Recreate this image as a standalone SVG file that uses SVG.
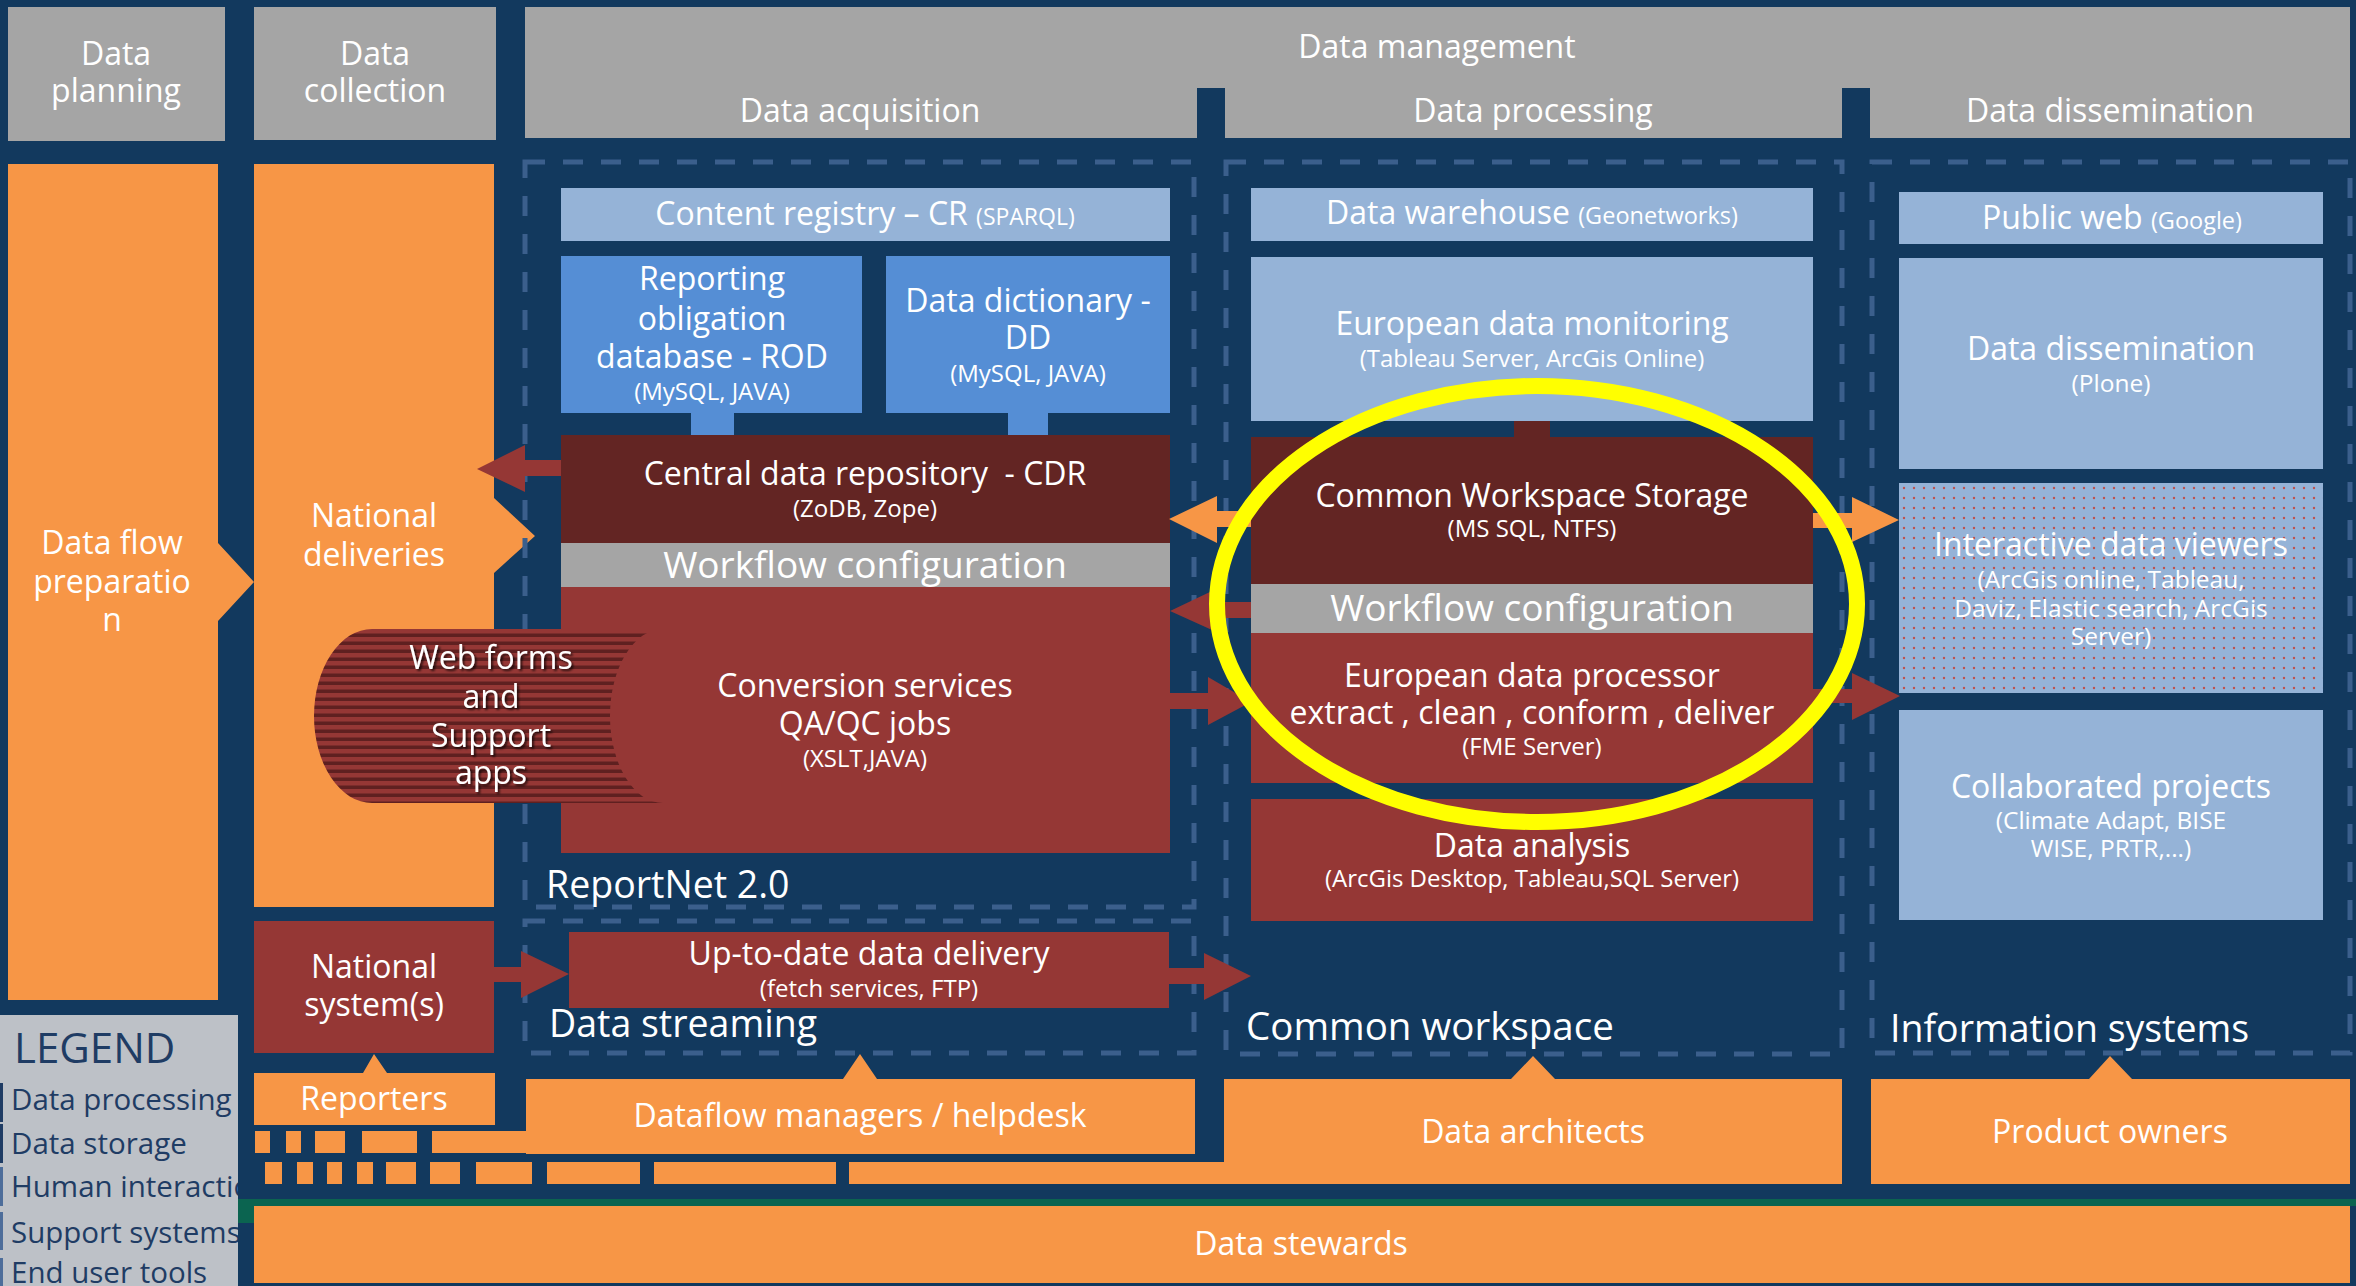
<svg xmlns="http://www.w3.org/2000/svg" width="2356" height="1286" viewBox="0 0 2356 1286">
<style>
.t{font-family:"Open Sans","Liberation Sans",sans-serif;fill:#ffffff;text-anchor:middle}
.l{text-anchor:start}
.f31{font-size:32px}
.f30{font-size:32px}
.f35{font-size:37.5px}
.sub{font-size:24px}
.hd{fill:#a5a5a5}
.or{fill:#f79646}
.lb{fill:#95b3d7}
.mb{fill:#558ed5}
.dr{fill:#632523}
.rd{fill:#953735}
.dash{fill:none;stroke:#3b5f8c;stroke-width:5;stroke-dasharray:20 18}
.lg{font-family:"Open Sans","Liberation Sans",sans-serif;fill:#1f3c64;font-size:29.5px}
.lgt{font-family:"Open Sans","Liberation Sans",sans-serif;fill:#1f3c64;font-size:42px}
</style>
<defs>
<pattern id="stripes" patternUnits="userSpaceOnUse" x="0" y="629" width="10" height="8">
<rect width="10" height="8" fill="#953735"/>
<rect y="4.5" width="10" height="3.5" fill="#5f2020"/>
</pattern>
<pattern id="dots" patternUnits="userSpaceOnUse" x="1899" y="483" width="10" height="10">
<rect width="10" height="10" fill="#95b3d7"/>
<circle cx="5" cy="5" r="1.2" fill="#c0504d"/>
</pattern>
<filter id="shadow" x="-10%" y="-10%" width="130%" height="130%">
<feDropShadow dx="2" dy="2" stdDeviation="1" flood-color="#000000" flood-opacity="0.7"/>
</filter>
<clipPath id="legclip"><rect x="0" y="1015" width="238" height="271"/></clipPath>
</defs>
<rect width="2356" height="1286" fill="#12395e"/>

<g id="headers">
<rect class="hd" x="8" y="7" width="217" height="134"/>
<text class="t f31" x="116" y="65">Data</text>
<text class="t f31" x="116" y="102">planning</text>
<rect class="hd" x="254" y="7" width="242" height="133"/>
<text class="t f31" x="375" y="65">Data</text>
<text class="t f31" x="375" y="102">collection</text>
<rect class="hd" x="525" y="7" width="1825" height="131"/>
<rect x="1197" y="88" width="28" height="50" fill="#12395e"/>
<rect x="1842" y="88" width="28" height="50" fill="#12395e"/>
<text class="t f31" x="1437" y="58">Data management</text>
<text class="t f31" x="860" y="122">Data acquisition</text>
<text class="t f31" x="1533" y="122">Data processing</text>
<text class="t f31" x="2110" y="122">Data dissemination</text>
</g>

<g id="dataflow-preparation">
<path class="or" d="M8,164 H218 V543 L254,582 L218,621 V1000 H8 Z"/>
<text class="t f31" x="112" y="554">Data flow</text>
<text class="t f31" x="112" y="593">preparatio</text>
<text class="t f31" x="112" y="631">n</text>
</g>

<g id="national-deliveries">
<path class="or" d="M254,164 H494 V498 L535,536 L494,573 V907 H254 Z"/>
<text class="t f31" x="374" y="527">National</text>
<text class="t f31" x="374" y="566">deliveries</text>
</g>

<g id="regions">
<rect class="dash" x="525" y="162" width="669" height="745"/>
<rect class="dash" x="525" y="921" width="669" height="132"/>
<rect class="dash" x="1226" y="162" width="616" height="892"/>
<rect class="dash" x="1872" y="162" width="478" height="891"/>
<text class="t l f35" x="546" y="898">ReportNet 2.0</text>
<text class="t l f35" x="549" y="1037">Data streaming</text>
<text class="t l" font-size="38.5" x="1246" y="1040">Common workspace</text>
<text class="t l f35" x="1890" y="1042">Information systems</text>
</g>

<g id="content-registry">
<rect class="lb" x="561" y="188" width="609" height="53"/>
<text class="t f30" x="865" y="225">Content registry – CR <tspan font-size="23">(SPARQL)</tspan></text>
</g>
<g id="rod">
<rect class="mb" x="561" y="256" width="301" height="157"/>
<text class="t f30" x="712" y="290">Reporting</text>
<text class="t f30" x="712" y="330">obligation</text>
<text class="t f30" x="712" y="368">database - ROD</text>
<text class="t sub" x="712" y="400">(MySQL, JAVA)</text>
</g>
<g id="dd">
<rect class="mb" x="886" y="256" width="284" height="157"/>
<text class="t f30" x="1028" y="312">Data dictionary -</text>
<text class="t f30" x="1028" y="349">DD</text>
<text class="t sub" x="1028" y="382">(MySQL, JAVA)</text>
</g>
<g id="cdr">
<rect class="dr" x="561" y="435" width="609" height="108"/>
<text class="t f30" x="865" y="485" xml:space="preserve">Central data repository  - CDR</text>
<text class="t sub" x="865" y="517">(ZoDB, Zope)</text>
</g>
<g id="workflow-reportnet">
<rect class="hd" x="561" y="543" width="609" height="44"/>
<text class="t" font-size="37" x="865" y="578">Workflow configuration</text>
</g>
<g id="conversion">
<rect class="rd" x="561" y="587" width="609" height="266"/>
<text class="t f30" x="865" y="697">Conversion services</text>
<text class="t f30" x="865" y="735">QA/QC jobs</text>
<text class="t sub" x="865" y="767">(XSLT,JAVA)</text>
</g>
<g id="web-forms">
<path d="M372,629 H663 A53,87 0 0 0 663,803 H372 A58,87 0 0 1 372,629 Z" fill="url(#stripes)"/>
<g filter="url(#shadow)">
<text class="t f31" x="491" y="669">Web forms</text>
<text class="t f31" x="491" y="708">and</text>
<text class="t f31" x="491" y="747">Support</text>
<text class="t f31" x="491" y="784">apps</text>
</g>
</g>

<g id="national-systems">
<rect class="rd" x="254" y="921" width="240" height="132"/>
<text class="t f31" x="374" y="978">National</text>
<text class="t f31" x="374" y="1016">system(s)</text>
</g>
<g id="up-to-date">
<rect class="rd" x="569" y="932" width="600" height="76"/>
<text class="t f30" x="869" y="965">Up-to-date data delivery</text>
<text class="t sub" x="869" y="997">(fetch services, FTP)</text>
</g>

<g id="data-warehouse">
<rect class="lb" x="1251" y="188" width="562" height="53"/>
<text class="t f30" x="1532" y="224">Data warehouse <tspan font-size="23.5">(Geonetworks)</tspan></text>
</g>
<g id="european-monitoring">
<rect class="lb" x="1251" y="257" width="562" height="164"/>
<text class="t f30" x="1532" y="335">European data monitoring</text>
<text class="t sub" x="1532" y="367">(Tableau Server, ArcGis Online)</text>
</g>
<g id="cws">
<rect class="dr" x="1251" y="437" width="562" height="147"/>
<text class="t f30" x="1532" y="507">Common Workspace Storage</text>
<text class="t sub" x="1532" y="537">(MS SQL, NTFS)</text>
</g>
<g id="workflow-processing">
<rect class="hd" x="1251" y="584" width="562" height="49"/>
<text class="t" font-size="37" x="1532" y="621">Workflow configuration</text>
</g>
<g id="edp">
<rect class="rd" x="1251" y="633" width="562" height="150"/>
<text class="t f31" x="1532" y="687">European data processor</text>
<text class="t f31" x="1532" y="724">extract , clean , conform , deliver</text>
<text class="t sub" x="1532" y="755">(FME Server)</text>
</g>
<g id="data-analysis">
<rect class="rd" x="1251" y="799" width="562" height="122"/>
<text class="t f31" x="1532" y="857">Data analysis</text>
<text class="t sub" x="1532" y="887">(ArcGis Desktop, Tableau,SQL Server)</text>
</g>

<g id="public-web">
<rect class="lb" x="1899" y="192" width="424" height="52"/>
<text class="t f31" x="2112" y="229">Public web <tspan font-size="23.5">(Google)</tspan></text>
</g>
<g id="data-dissemination">
<rect class="lb" x="1899" y="258" width="424" height="211"/>
<text class="t f31" x="2111" y="360">Data dissemination</text>
<text class="t" font-size="24.5" x="2111" y="392">(Plone)</text>
</g>
<g id="interactive-viewers">
<rect x="1899" y="483" width="424" height="210" fill="url(#dots)"/>
<text class="t f31" x="2111" y="556">Interactive data viewers</text>
<text class="t" font-size="24.5" x="2111" y="588">(ArcGis online, Tableau,</text>
<text class="t" font-size="24.5" x="2111" y="617">Daviz, Elastic search, ArcGis</text>
<text class="t" font-size="24.5" x="2111" y="645">Server)</text>
</g>
<g id="collaborated-projects">
<rect class="lb" x="1899" y="710" width="424" height="210"/>
<text class="t f31" x="2111" y="798">Collaborated projects</text>
<text class="t" font-size="24.5" x="2111" y="829">(Climate Adapt, BISE</text>
<text class="t" font-size="24.5" x="2111" y="857">WISE, PRTR,...)</text>
</g>

<g id="reporters">
<path class="or" d="M254,1073 H363 L374,1054 L387,1073 H495 V1125 H254 Z"/>
<text class="t f30" x="374" y="1110">Reporters</text>
</g>
<g id="broken-bars" class="or">
<rect x="255" y="1131" width="15" height="22"/>
<rect x="286" y="1131" width="15" height="22"/>
<rect x="315" y="1131" width="30" height="22"/>
<rect x="362" y="1131" width="55" height="22"/>
<rect x="432" y="1131" width="94" height="22"/>
<rect x="265" y="1162" width="17" height="22"/>
<rect x="297" y="1162" width="16" height="22"/>
<rect x="327" y="1162" width="15" height="22"/>
<rect x="357" y="1162" width="16" height="22"/>
<rect x="386" y="1162" width="30" height="22"/>
<rect x="430" y="1162" width="30" height="22"/>
<rect x="476" y="1162" width="56" height="22"/>
<rect x="547" y="1162" width="93" height="22"/>
<rect x="654" y="1162" width="182" height="22"/>
<rect x="849" y="1162" width="376" height="22"/>
</g>
<g id="dataflow-managers">
<path class="or" d="M526,1079 H843 L860,1054 L877,1079 H1195 V1154 H526 Z"/>
<text class="t f30" x="860" y="1127">Dataflow managers / helpdesk</text>
</g>
<g id="data-architects">
<path class="or" d="M1224,1079 H1511 L1533,1056 L1555,1079 H1842 V1184 H1224 Z"/>
<text class="t f30" x="1533" y="1143">Data architects</text>
</g>
<g id="product-owners">
<path class="or" d="M1871,1079 H2089 L2110,1056 L2132,1079 H2350 V1184 H1871 Z"/>
<text class="t f30" x="2110" y="1143">Product owners</text>
</g>
<g id="data-stewards">
<rect x="238" y="1199" width="2118" height="7" fill="#0b6450"/>
<rect x="238" y="1199" width="16" height="24" fill="#0b6450"/>
<rect class="or" x="254" y="1206" width="2096" height="77"/>
<text class="t f30" x="1301" y="1255">Data stewards</text>
</g>

<g id="legend">
<rect x="0" y="1015" width="238" height="271" fill="#bdc1c7"/>
<rect x="0" y="1083" width="3" height="39" fill="#1f3c64"/>
<rect x="0" y="1124" width="3" height="39" fill="#1f3c64"/>
<rect x="0" y="1167" width="3" height="39" fill="#4d6d9a"/>
<rect x="0" y="1212" width="3" height="38" fill="#4d6d9a"/>
<rect x="0" y="1258" width="3" height="28" fill="#4d6d9a"/>
<g clip-path="url(#legclip)">
<text class="lgt" x="14" y="1063">LEGEND</text>
<text class="lg" x="11" y="1110">Data processing</text>
<text class="lg" x="11" y="1154">Data storage</text>
<text class="lg" x="11" y="1197">Human interaction</text>
<text class="lg" x="11" y="1243">Support systems</text>
<text class="lg" x="11" y="1283">End user tools</text>
</g>
</g>

<g id="connectors">
<rect x="691" y="413" width="43" height="22" fill="#558ed5"/>
<rect x="1008" y="413" width="40" height="22" fill="#558ed5"/>
<rect x="1514" y="421" width="36" height="16" fill="#632523"/>
<polygon class="rd" points="561,460 525,460 525,445 477,469 525,492 525,476 561,476"/>
<polygon class="or" points="1251,511 1217,511 1217,496 1169,519 1217,543 1217,527 1251,527"/>
<polygon class="rd" points="1251,602 1212,602 1212,591 1170,611 1212,630 1212,618 1251,618"/>
<polygon class="rd" points="1170,693 1208,693 1208,677 1251,702 1208,725 1208,709 1170,709"/>
<polygon class="rd" points="1169,968 1204,968 1204,953 1251,976 1204,1000 1204,984 1169,984"/>
<polygon class="rd" points="494,967 521,967 521,951 569,974 521,998 521,982 494,982"/>
<polygon class="or" points="1813,513 1852,513 1852,497 1899,520 1852,542 1852,528 1813,528"/>
<polygon class="rd" points="1813,689 1852,689 1852,673 1900,696 1852,720 1852,703 1813,703"/>
</g>

<g id="highlight">
<ellipse cx="1537" cy="604" rx="320" ry="218" fill="none" stroke="#ffff00" stroke-width="16"/>
</g>
</svg>
